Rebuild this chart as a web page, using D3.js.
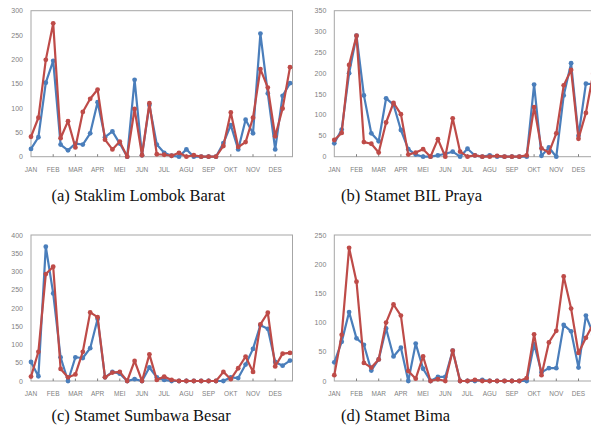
<!DOCTYPE html>
<html>
<head>
<meta charset="utf-8">
<script src="https://cdn.jsdelivr.net/npm/d3@7"></script>
<style>
  body { margin: 0; background: #fff; overflow: hidden; }
  svg { display: block; }
</style>
</head>
<body>
<svg id="chart" width="591" height="427"></svg>
<script>
// Month labels (one label every 3 dekads)
const months = ['JAN', 'FEB', 'MAR', 'APR', 'MEI', 'JUN', 'JUL', 'AGU', 'SEP', 'OKT', 'NOV', 'DES'];

// Dekad rainfall values (blue and red series per station)
const lombokBaratBlue = [16, 40, 152, 197, 25, 13, 27, 25, 48, 112, 40, 52, 27, 0, 158, 3, 106, 25, 8, 2, 0, 15, 0, 0, 0, 0, 28, 65, 15, 76, 48, 253, 130, 15, 125, 151];
const lombokBaratRed = [41, 80, 199, 274, 38, 73, 19, 92, 119, 138, 35, 15, 31, 0, 98, 3, 110, 5, 4, 2, 8, 0, 3, 0, 0, 0, 22, 91, 20, 30, 80, 180, 142, 42, 99, 184];

const bilPrayaBlue = [32, 65, 200, 290, 147, 56, 37, 140, 125, 64, 18, 5, 0, 0, 3, 7, 12, 0, 19, 3, 0, 3, 0, 0, 0, 0, 0, 173, 2, 22, 0, 147, 224, 50, 175, 174];
const bilPrayaRed = [40, 57, 220, 290, 35, 31, 10, 82, 129, 102, 5, 10, 18, 0, 42, 0, 92, 12, 0, 3, 0, 0, 2, 0, 0, 0, 3, 119, 20, 10, 56, 171, 208, 43, 105, 200];

const sumbawaBesarBlue = [52, 13, 368, 240, 65, 0, 65, 63, 90, 170, 10, 25, 20, 0, 5, 0, 37, 10, 3, 0, 0, 0, 0, 0, 0, 0, 0, 10, 8, 45, 88, 153, 143, 52, 42, 56];
const sumbawaBesarRed = [12, 80, 293, 313, 33, 10, 18, 80, 188, 175, 10, 23, 25, 0, 55, 0, 73, 3, 12, 3, 0, 0, 0, 0, 0, 0, 25, 5, 35, 67, 25, 155, 187, 40, 75, 77];

const bimaBlue = [32, 67, 118, 73, 62, 18, 37, 90, 42, 57, 0, 64, 21, 0, 7, 7, 52, 0, 0, 0, 2, 0, 0, 0, 0, 0, 0, 63, 15, 22, 22, 96, 85, 23, 112, 80];
const bimaRed = [10, 79, 228, 170, 31, 23, 37, 100, 131, 112, 17, 4, 42, 0, 3, 0, 52, 0, 0, 2, 0, 0, 0, 0, 0, 0, 5, 80, 10, 66, 86, 179, 124, 48, 74, 98];

const captions = ['(a) Staklim Lombok Barat', '(b) Stamet BIL Praya', '(c) Stamet Sumbawa Besar', '(d) Stamet Bima'];
const yMax = [300, 350, 400, 250];

// Layout of the four panels
const panels = [
  { blue: lombokBaratBlue, red: lombokBaratRed, left: 31, top: 10.7, bottom: 156.7, capX: 51.5, capY: 201 },
  { blue: bilPrayaBlue, red: bilPrayaRed, left: 334.3, top: 10.7, bottom: 156.7, capX: 341, capY: 201 },
  { blue: sumbawaBesarBlue, red: sumbawaBesarRed, left: 31, top: 235, bottom: 381, capX: 51.5, capY: 421 },
  { blue: bimaBlue, red: bimaRed, left: 334.3, top: 235, bottom: 381, capX: 341, capY: 421 }
];

const svg = d3.select('#chart');
const step = 7.4; // px per dekad

panels.forEach((p, k) => {
  const g = svg.append('g');
  const x = d3.scaleLinear().domain([0, 35]).range([p.left, p.left + 35 * step]);
  const y = d3.scaleLinear().domain([0, yMax[k]]).range([p.bottom, p.top]);
  const right = x(35) + 2.5;

  // plot area border
  g.append('rect')
    .attr('x', p.left).attr('y', p.top)
    .attr('width', right - p.left).attr('height', p.bottom - p.top)
    .attr('fill', 'none').attr('stroke', '#a6a6a6').attr('stroke-width', 1);

  // y axis labels
  g.selectAll('.ylab')
    .data(d3.range(0, yMax[k] + 1, 50))
    .enter().append('text')
    .attr('x', p.left - 8)
    .attr('y', d => y(d) + 2.5)
    .attr('text-anchor', 'end')
    .attr('font-family', 'Liberation Sans, Arial, sans-serif')
    .attr('font-size', 7)
    .attr('fill', '#7f7f7f')
    .text(d => d);

  // x axis ticks and month labels
  g.selectAll('.xtick')
    .data(months.slice(1))
    .enter().append('line')
    .attr('x1', (d, i) => x((i + 1) * 3)).attr('x2', (d, i) => x((i + 1) * 3))
    .attr('y1', p.bottom).attr('y2', p.bottom - 2.5)
    .attr('stroke', '#7f7f7f').attr('stroke-width', 1);

  g.selectAll('.xlab')
    .data(months)
    .enter().append('text')
    .attr('x', (d, i) => x(i * 3))
    .attr('y', p.bottom + 15)
    .attr('text-anchor', 'middle')
    .attr('font-family', 'Liberation Sans, Arial, sans-serif')
    .attr('font-size', 6.5)
    .attr('fill', '#7f7f7f')
    .text(d => d);

  // the two series
  const line = d3.line().x((d, i) => x(i)).y(d => y(d));
  [[p.blue, '#4a7ebb'], [p.red, '#be4b48']].forEach(([vals, color]) => {
    g.append('path')
      .attr('d', line(vals))
      .attr('fill', 'none')
      .attr('stroke', color)
      .attr('stroke-width', 2.2)
      .attr('stroke-linejoin', 'round');
    g.selectAll(null)
      .data(vals)
      .enter().append('circle')
      .attr('cx', (d, i) => x(i))
      .attr('cy', d => y(d))
      .attr('r', 2.4)
      .attr('fill', color);
  });

  // caption
  svg.append('text')
    .attr('x', p.capX).attr('y', p.capY)
    .attr('font-family', 'Liberation Serif, Times New Roman, serif')
    .attr('font-size', 16.5)
    .attr('fill', '#111')
    .text(captions[k]);
});
</script>
</body>
</html>
